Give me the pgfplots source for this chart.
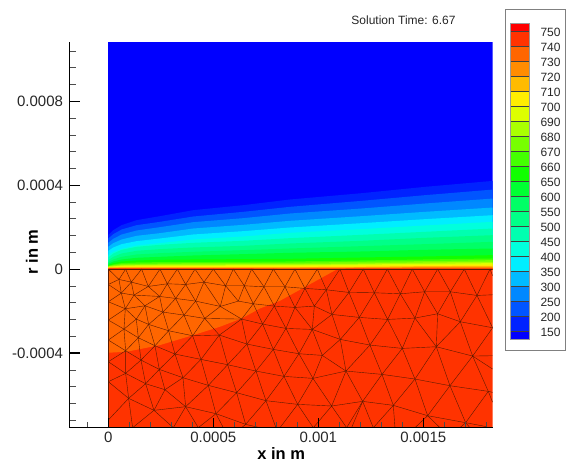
\documentclass[border=0pt]{standalone}
\usepackage{fontspec}
\setmainfont{Liberation Sans}
\usepackage{pgfplots}
\usepackage{pgfplotstable}
\pgfplotsset{compat=1.18}
\definecolor{c000}{HTML}{0000FF}
\definecolor{c150}{HTML}{0022FF}
\definecolor{c200}{HTML}{0055FF}
\definecolor{c250}{HTML}{0088FF}
\definecolor{c300}{HTML}{00BBFF}
\definecolor{c350}{HTML}{00EEFF}
\definecolor{c400}{HTML}{00FFDD}
\definecolor{c450}{HTML}{00FFB0}
\definecolor{c500}{HTML}{00FF88}
\definecolor{c550}{HTML}{00FF66}
\definecolor{c600}{HTML}{00FF33}
\definecolor{c650}{HTML}{11FF00}
\definecolor{c660}{HTML}{44FF00}
\definecolor{c670}{HTML}{77FF00}
\definecolor{c680}{HTML}{AAFF00}
\definecolor{c690}{HTML}{DDFF00}
\definecolor{c700}{HTML}{FFEE00}
\definecolor{c710}{HTML}{FFBB00}
\definecolor{c720}{HTML}{FF8C00}
\definecolor{c730}{HTML}{FF6600}
\definecolor{c740}{HTML}{FF3300}
\definecolor{c750}{HTML}{FF0000}
\definecolor{meshc}{HTML}{5A1A00}
% band edges: X, then the height of each isotherm above r=0 (unit 1.5873e-6 m)
\pgfplotstableread{
X L150 L200 L250 L300 L350 L400 L450 L500 L550 L600 L650 L660 L670 L680 L690 L700 L710 L720 L730 L740
0 102 92 79 67 55 43 35 27 21 16 12 10 9 8 7 6 5 4 3 2
15 117 105 91 78 65 52 47 37 29 23 18 14 12 10 8 7 5 4 3 2
40 132 119 104 89 75 61 58 47 37 29 23 18 15 12 10 8 6 4 3 2
85 147 132 116 100 84 71 67 55 44 34 26 20 16 13 11 8 6 4 3 2
155 159 142 126 108 92 78 73 60 48 37 28 21 17 14 11 9 6 4 3 2
255 177 158 141 122 104 89 79 65 52 41 29 21 18 14 11 9 6 4 3 2
405 192 172 153 133 114 98 85 70 57 45 30 22 18 15 12 9 6 4 3 2
545 209 187 167 145 125 109 93 77 62 49 31 23 19 15 12 9 6 4 2.5 1.5
760 228 205 182 159 138 120 103 85 69 53 35 26 22 17 14 11 7 5 3 2
950 247 222 197 172 150 131 112 94 75 58 38 29 24 20 16 12 9 6 3.5 2
1155 265 239 212 185 162 142 122 102 82 62 42 32 27 22 18 14 10 7 4 2
}\bands
\newcommand{\band}[2]{\addplot[draw=none,fill=#2] table[x expr=\thisrow{X}*1.5873e-6,y expr=\thisrow{#1}*1.5873e-6] {\bands} \closedcycle;}
\newcommand{\ml}[1]{\addplot[meshc,line width=0.4pt,line join=round] table[row sep=\\,x expr=\thisrowno{0}*1.5873e-6,y expr=\thisrowno{1}*1.5873e-6] {#1};}
\newcommand{\lb}[3]{\addplot[draw=none,fill=#3] coordinates {(0,#1) (1,#1) (1,#2) (0,#2)} --cycle;}
\begin{document}
\begin{tikzpicture}[x=1pt,y=1pt]
\useasboundingbox (0,0) rectangle (569,461);
\begin{axis}[
  scale only axis,width=423.2pt,height=385.7pt,
  at={(69.5pt,33.3pt)},anchor=south west,
  xmin=-0.0001848,xmax=0.0018305,ymin=-0.0007557,ymax=0.0010824,
  axis x line*=bottom,axis y line*=left,
  axis line style={-,black,line width=1.3pt},
  axis on top,
  scaled ticks=false,
  xtick={0,0.0005,0.001,0.0015},
  xticklabels={0,0.0005,0.001,0.0015},
  ytick={-0.0004,0,0.0004,0.0008},
  yticklabels={-0.0004,0,0.0004,0.0008},
  minor xtick={-0.0001,0.0001,0.0002,0.0003,0.0004,0.0006,0.0007,0.0008,0.0009,0.0011,0.0012,0.0013,0.0014,0.0016,0.0017,0.0018},
  minor ytick={-0.00072,-0.00064,-0.00056,-0.00048,-0.00032,-0.00024,-0.00016,-0.00008,0.00008,0.00016,0.00024,0.00032,0.00048,0.00056,0.00064,0.00072,0.00088,0.00096,0.00104},
  tick align=inside,
  major tick length=10pt,minor tick length=6pt,
  major tick style={black,line width=1.2pt},
  minor tick style={black!70,line width=0.6pt},
  ticklabel style={font=\fontsize{15}{15}\selectfont,text=black!85},
  xticklabel style={yshift=-1pt},
  yticklabel style={xshift=-3pt},
  xlabel={\textbf{x in m}},
  ylabel={\textbf{r in m}},
  label style={font=\fontsize{16.5}{16.5}\selectfont},
  xlabel style={at={(axis description cs:0.5,0)},anchor=north,inner sep=0pt,yshift=-20pt},
  ylabel style={at={(axis description cs:0,0.4555)},anchor=south,xshift=0pt,yshift=28pt},
  clip=true,
]
% gas region
\addplot[draw=none,fill=c000] coordinates {(0,0) (0.0018305,0) (0.0018305,0.0010824) (0,0.0010824)} --cycle;
\band{L150}{c150}
\band{L200}{c200}
\band{L250}{c250}
\band{L300}{c300}
\band{L350}{c350}
\band{L400}{c400}
\band{L450}{c450}
\band{L500}{c500}
\band{L550}{c550}
\band{L600}{c600}
\band{L650}{c650}
\band{L660}{c660}
\band{L670}{c670}
\band{L680}{c680}
\band{L690}{c690}
\band{L700}{c700}
\band{L710}{c710}
\band{L720}{c720}
\band{L730}{c730}
\band{L740}{c740}
% solid region
\addplot[draw=none,fill=c740] coordinates {(0,0) (0.0018305,0) (0.0018305,-0.0007557) (0,-0.0007557)} --cycle;
\addplot[draw=none,fill=c730] table[row sep=\\,x expr=\thisrowno{0}*1.5873e-6,y expr=\thisrowno{1}*1.5873e-6] {0 0\\0 -251\\55 -248\\155 -228\\255 -198\\335 -173\\400 -148\\455 -118\\515 -95\\600 -48\\687 0\\} --cycle;
% mesh: rows
\ml{0 0\\0 -476\\}
\ml{0 -46\\32 -31\\69 -39\\120 -52\\177 -44\\232 -46\\287 -39\\352 -50\\408 -50\\467 -53\\530 -53\\590 -58\\654 -62\\722 -70\\798 -71\\876 -74\\949 -68\\1026 -68\\1106 -79\\1153 -77\\}
\ml{39 -72\\77 -78\\154 -82\\202 -88\\262 -96\\336 -112\\390 -96\\435 -104\\498 -111\\560 -115\\618 -111\\671 -136\\753 -145\\838 -151\\920 -147\\988 -134\\1056 -158\\1153 -176\\}
\ml{0 -98\\51 -119\\110 -110\\164 -129\\227 -138\\289 -148\\400 -150\\463 -165\\533 -178\\612 -181\\696 -211\\785 -228\\882 -238\\984 -233\\1093 -261\\1153 -260\\}
\ml{0 -153\\47 -180\\90 -206\\140 -230\\200 -255\\278 -271\\358 -287\\443 -306\\527 -322\\614 -328\\713 -306\\}
\ml{84 -150\\121 -166\\181 -185\\253 -200\\333 -198\\416 -225\\495 -241\\572 -254\\642 -259\\713 -306\\821 -316\\920 -330\\1025 -350\\1140 -367\\1153 -370\\}
\ml{0 -213\\52 -245\\98 -273\\153 -301\\224 -326\\300 -349\\385 -371\\473 -395\\568 -406\\670 -411\\763 -397\\855 -409\\958 -440\\1072 -461\\1135 -473\\}
\ml{0 -278\\52 -313\\112 -344\\170 -362\\232 -413\\323 -434\\412 -466\\455 -476\\}
\ml{0 -338\\61 -388\\137 -424\\232 -413\\}
% mesh: zigzags
\ml{0 0\\32 -31\\52 0\\69 -39\\100 0\\120 -52\\155 0\\177 -44\\207 0\\232 -46\\260 0\\287 -39\\315 0\\352 -50\\375 0\\408 -50\\430 0\\467 -53\\495 0\\530 -53\\560 0\\590 -58\\627 0\\654 -62\\695 0\\722 -70\\765 0\\798 -71\\837 0\\876 -74\\912 0\\949 -68\\988 0\\1026 -68\\1068 0\\1106 -79\\1145 0\\1153 -20\\}
\ml{0 -46\\39 -72\\32 -31\\}
\ml{39 -72\\69 -39\\77 -78\\120 -52\\154 -82\\177 -44\\202 -88\\232 -46\\262 -96\\287 -39\\336 -112\\352 -50\\390 -96\\408 -50\\435 -104\\467 -53\\498 -111\\530 -53\\560 -115\\590 -58\\618 -111\\654 -62\\671 -136\\722 -70\\753 -145\\798 -71\\838 -151\\876 -74\\920 -147\\949 -68\\988 -134\\1026 -68\\1056 -158\\1106 -79\\1153 -176\\}
\ml{0 -98\\39 -72\\51 -119\\77 -78\\110 -110\\154 -82\\164 -129\\202 -88\\227 -138\\262 -96\\289 -148\\336 -112\\400 -150\\435 -104\\463 -165\\498 -111\\533 -178\\560 -115\\612 -181\\618 -111\\}
\ml{612 -181\\671 -136\\696 -211\\753 -145\\785 -228\\838 -151\\882 -238\\920 -147\\984 -233\\988 -134\\}
\ml{984 -233\\1056 -158\\1093 -261\\1153 -176\\}
\ml{0 -153\\51 -119\\47 -180\\52 -245\\}
\ml{51 -119\\84 -150\\110 -110\\121 -166\\164 -129\\181 -185\\227 -138\\253 -200\\289 -148\\333 -198\\400 -150\\416 -225\\463 -165\\495 -241\\533 -178\\572 -254\\612 -181\\642 -259\\696 -211\\713 -306\\785 -228\\821 -316\\882 -238\\920 -330\\984 -233\\1025 -350\\1093 -261\\1140 -367\\1153 -400\\}
\ml{1093 -261\\1153 -300\\}
\ml{47 -180\\84 -150\\90 -206\\121 -166\\140 -230\\181 -185\\200 -255\\253 -200\\278 -271\\333 -198\\358 -287\\416 -225\\443 -306\\495 -241\\527 -322\\572 -254\\614 -328\\642 -259\\}
\ml{47 -180\\0 -213\\}
\ml{52 -245\\90 -206\\98 -273\\140 -230\\153 -301\\200 -255\\224 -326\\278 -271\\300 -349\\358 -287\\385 -371\\443 -306\\473 -395\\527 -322\\568 -406\\614 -328\\670 -411\\713 -306\\763 -397\\821 -316\\855 -409\\920 -330\\958 -440\\1025 -350\\1072 -461\\1140 -367\\}
\ml{0 -278\\52 -245\\52 -313\\98 -273\\112 -344\\153 -301\\170 -362\\224 -326\\232 -413\\300 -349\\323 -434\\385 -371\\412 -466\\473 -395\\503 -476\\}
\ml{0 -338\\52 -313\\61 -388\\112 -344\\137 -424\\170 -362\\}
\ml{0 -453\\61 -388\\73 -476\\137 -424\\195 -476\\232 -413\\270 -476\\323 -434\\345 -476\\}
\ml{412 -466\\400 -476\\}
\ml{515 -476\\568 -406\\615 -476\\670 -411\\715 -476\\763 -397\\795 -476\\855 -409\\860 -476\\}
\ml{730 -476\\763 -397\\}
\ml{920 -476\\958 -440\\995 -476\\}
\ml{1055 -476\\1072 -461\\1085 -476\\}
\addplot[meshc,line width=0.9pt] coordinates {(0,0) (0.0018305,0)};
\end{axis}
% contour legend
\draw[black!50,line width=0.8pt] (505,110.3) rectangle (565,452);
\begin{axis}[
  scale only axis,width=19pt,height=316pt,
  at={(510pt,122pt)},anchor=south west,
  xmin=0,xmax=1,ymin=-0.533,ymax=20.533,
  axis on top,
  xtick=\empty,
  ytick={0,1,...,20},
  yticklabels={150,200,250,300,350,400,450,500,550,600,650,660,670,680,690,700,710,720,730,740,750},
  yticklabel pos=right,
  ymajorgrids,
  grid style={black!75,line width=0.5pt},
  major tick length=0pt,
  axis line style={black!40,line width=0.5pt},
  yticklabel style={font=\fontsize{12}{12}\selectfont,text=black!85,anchor=west,xshift=8pt,yshift=-1.5pt},
]
\lb{-0.533}{0}{c000}
\lb{0}{1}{c150}
\lb{1}{2}{c200}
\lb{2}{3}{c250}
\lb{3}{4}{c300}
\lb{4}{5}{c350}
\lb{5}{6}{c400}
\lb{6}{7}{c450}
\lb{7}{8}{c500}
\lb{8}{9}{c550}
\lb{9}{10}{c600}
\lb{10}{11}{c650}
\lb{11}{12}{c660}
\lb{12}{13}{c670}
\lb{13}{14}{c680}
\lb{14}{15}{c690}
\lb{15}{16}{c700}
\lb{16}{17}{c710}
\lb{17}{18}{c720}
\lb{18}{19}{c730}
\lb{19}{20}{c740}
\lb{20}{20.533}{c750}
\end{axis}
\node[anchor=base,font=\fontsize{12}{12}\selectfont,text=black!85] at (403.5,436.5) {Solution Time: 6.67};
\end{tikzpicture}
\end{document}
